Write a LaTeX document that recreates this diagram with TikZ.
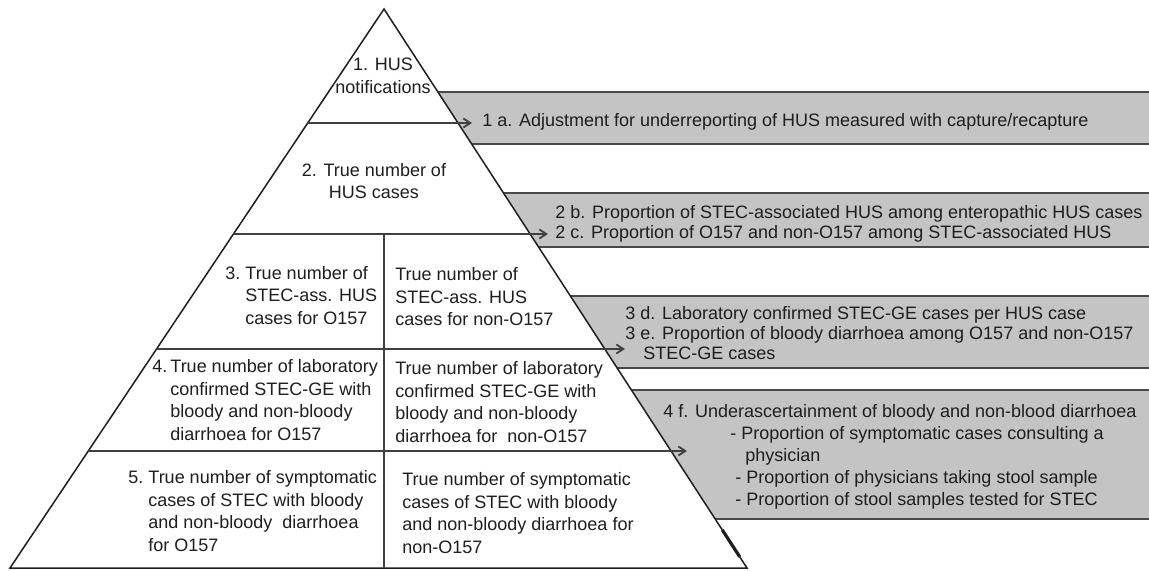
\documentclass[tikz,border=0pt]{standalone}
\usepackage{fontspec}
\setmainfont{Liberation Sans}
\usetikzlibrary{arrows.meta,calc}
\definecolor{boxgray}{RGB}{196,196,196}
\definecolor{rimgray}{RGB}{72,72,72}
\definecolor{inkgray}{RGB}{30,30,30}

\begin{document}
\begin{tikzpicture}[x=0.5pt,y=-0.5pt,>={Straight Barb[length=3.5pt,width=4.5pt]},
  estbox/.style={fill=boxgray,draw=rimgray,line width=0.9pt},
  tier/.style={draw=black!75,line width=0.9pt},
  txt/.style={inner sep=0pt,text=inkgray,align=left,font=\fontsize{9}{11.25}\selectfont}]
  \useasboundingbox (0,0) rectangle (1149,571);
  % Corners of the pyramid
  \coordinate (apex) at (384,9);
  \coordinate (bl) at (10,568);
  \coordinate (br) at (747,568);
  % Grey boxes with the adjustments (drawn behind the pyramid)
  \draw[estbox] (400,92) rectangle (1160,144);
  \draw[estbox] (420,193) rectangle (1160,247);
  \draw[estbox] (480,296) rectangle (1160,368);
  \draw[estbox] (560,390) rectangle (1160,519);
  % Pyramid
  \draw[fill=white,draw=inkgray,line width=0.75pt] (apex) -- (bl) -- (br) -- cycle;
  \draw[inkgray,line width=1.6pt] ($(apex)!0.932!(br)$) -- ($(apex)!0.98!(br)$);
  % Levels, each with an arrow into its box
  \coordinate (s1) at ($(apex)!0.2039!(bl)$);
  \coordinate (s2) at ($(apex)!0.4025!(bl)$);
  \coordinate (s3) at ($(apex)!0.6082!(bl)$);
  \coordinate (s4) at ($(apex)!0.7907!(bl)$);
  \coordinate (e1) at (472,123);
  \coordinate (e2) at (548,234);
  \coordinate (e3) at (625,349);
  \coordinate (e4) at (687,451);
  \draw[tier,->] (s1) -- (e1);
  \draw[tier,->] (s2) -- (e2);
  \draw[tier,->] (s3) -- (e3);
  \draw[tier,->] (s4) -- (e4);
  % O157 / non-O157 split
  \draw[tier] (apex |- s2) -- (apex |- bl);
  % Texts in the pyramid
  \node[txt,align=center] (hus) at (383,76) {1. HUS\\notifications};
  \node[txt,align=center] (truehus) at (374,181) {2. True number of\\HUS cases};
  \node[txt,anchor=west] (ass157) at (225,297)
    {\begin{tabular}{@{}l@{\ }l@{}}3. & True number of\\ & STEC-ass. HUS\\ & cases for O157\end{tabular}};
  \node[txt,anchor=west] (assnon) at (395,297) {True number of\\STEC-ass. HUS\\cases for non-O157};
  \node[txt,anchor=west] (lab157) at (152,402)
    {\begin{tabular}{@{}l@{\,}l@{}}4. & True number of laboratory\\ & confirmed STEC-GE with\\
     & bloody and non-bloody\\ & diarrhoea for O157\end{tabular}};
  \node[txt,anchor=west] (labnon) at (395,402)
    {True number of laboratory\\confirmed STEC-GE with\\bloody and non-bloody\\diarrhoea for\ \ non-O157};
  \node[txt,anchor=west] (sym157) at (128,513)
    {\begin{tabular}{@{}l@{\ }l@{}}5. & True number of symptomatic\\ & cases of STEC with bloody\\
     & and non-bloody\ \ diarrhoea\\ & for O157\end{tabular}};
  \node[txt,anchor=west] (symnon) at (402,513)
    {True number of symptomatic\\cases of STEC with bloody\\and non-bloody diarrhoea for\\non-O157};
  % Texts in the grey boxes
  \node[txt,anchor=west] (adj) at (482,122)
    {1 a. Adjustment for underreporting of HUS measured with capture/recapture};
  \node[txt,anchor=west,font=\fontsize{9}{10}\selectfont] (prop) at (555,224)
    {2 b. Proportion of STEC-associated HUS among enteropathic HUS cases\\
     2 c. Proportion of O157 and non-O157 among STEC-associated HUS};
  \node[txt,anchor=west,font=\fontsize{9}{10}\selectfont] (labc) at (625,333)
    {3 d. Laboratory confirmed STEC-GE cases per HUS case\\
     3 e. Proportion of bloody diarrhoea among O157 and non-O157\\
     \hspace*{9pt}STEC-GE cases};
  \node[txt,anchor=west,font=\fontsize{9}{11}\selectfont] (under) at (663,457)
    {4 f. Underascertainment of bloody and non-blood diarrhoea\\
     \hspace*{33.5pt}- Proportion of symptomatic cases consulting a\\
     \hspace*{41pt}physician\\
     \hspace*{36pt}- Proportion of physicians taking stool sample\\
     \hspace*{36pt}- Proportion of stool samples tested for STEC};
\end{tikzpicture}
\end{document}
